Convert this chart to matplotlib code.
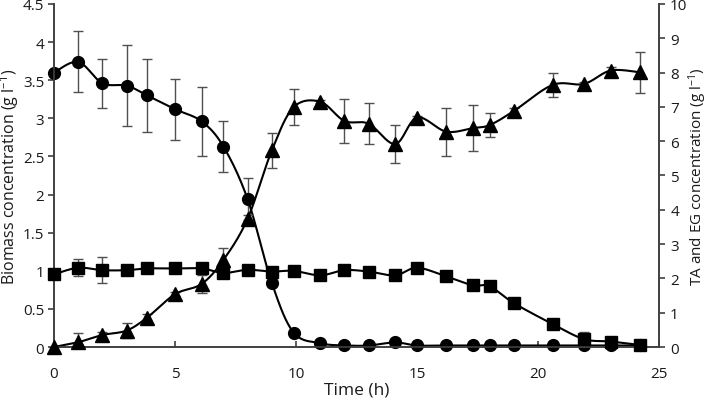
import numpy as np
from matplotlib import pyplot as plt
from matplotlib.ticker import MultipleLocator, FuncFormatter

plt.rcParams['font.family'] = ['Open Sans', 'DejaVu Sans']
plt.rcParams['mathtext.default'] = 'regular'

# sampling times (h)
time = [0, 1, 2, 3, 3.85, 5, 6.1, 7, 8, 9, 9.9, 11, 12, 13, 14.1, 15, 16.2, 17.3, 18, 19, 20.6, 21.9, 23, 24.2]

# biomass (left axis, g/l)
biomass = [3.60, 3.74, 3.46, 3.43, 3.30, 3.12, 2.96, 2.63, 1.94, 0.84, 0.19, 0.05, 0.02, 0.02, 0.06, 0.02,
           0.02, 0.02, 0.02, 0.02, 0.02, 0.02, 0.02, 0.02]
biomass_err = [0, 0.40, 0.32, 0.53, 0.48, 0.40, 0.45, 0.34, 0.28, 0.02, 0, 0, 0, 0, 0, 0,
               0, 0, 0, 0, 0, 0, 0, 0]

# squares (right axis, g/l)
squares = [2.12, 2.31, 2.24, 2.24, 2.29, 2.29, 2.29, 2.16, 2.25, 2.20, 2.22, 2.09, 2.24, 2.20, 2.09, 2.31,
           2.06, 1.80, 1.77, 1.28, 0.67, 0.23, 0.16, 0.06]
squares_err = [0.1, 0.25, 0.37, 0.1, 0.1, 0.1, 0.1, 0.05, 0.08, 0.05, 0.1, 0.05, 0.12, 0.05, 0.05, 0.05,
               0.15, 0.15, 0.05, 0.05, 0.05, 0.22, 0.05, 0.02]

# triangles (right axis, g/l)
triangles = [0.0, 0.14, 0.35, 0.48, 0.86, 1.54, 1.84, 2.54, 3.74, 5.73, 6.99, 7.15, 6.59, 6.51, 5.92, 6.69,
             6.28, 6.38, 6.47, 6.88, 7.64, 7.67, 8.06, 8.01]
triangles_err = [0, 0.27, 0.08, 0.23, 0.1, 0.05, 0.27, 0.34, 0.1, 0.52, 0.52, 0.05, 0.63, 0.6, 0.55, 0.05,
                 0.7, 0.67, 0.36, 0.1, 0.36, 0.05, 0.1, 0.6]


def smooth(x, y, n=20):
    # excel style smoothed line: bezier through points
    p = np.column_stack([x, y]).astype(float)
    pts = np.vstack([p[0], p, p[-1]])
    out = []
    for i in range(1, len(pts) - 2):
        p0, p1, p2, p3 = pts[i - 1], pts[i], pts[i + 1], pts[i + 2]
        b1 = p1 + (p2 - p0) / 6
        b2 = p2 - (p3 - p1) / 6
        s = np.linspace(0, 1, n)[:, None]
        seg = (1 - s) ** 3 * p1 + 3 * (1 - s) ** 2 * s * b1 + 3 * (1 - s) * s ** 2 * b2 + s ** 3 * p2
        out.append(seg)
    c = np.vstack(out)
    return c[:, 0], c[:, 1]


fig = plt.figure(figsize=(7.09, 4.02), dpi=100)
ax = fig.add_axes([0.0762, 0.1343, 0.8533, 0.8533])
ax2 = ax.twinx()

ecol = '#505050'
ax.errorbar(time, biomass, yerr=biomass_err, fmt='none', ecolor=ecol, elinewidth=1, capsize=3.5, zorder=1)
sx, sy = smooth(time, biomass)
ax.plot(sx, sy, color='black', lw=1.5, zorder=2)
ax.plot(time, biomass, 'o', color='black', ms=8.5, zorder=3, clip_on=False)

ax2.errorbar(time, squares, yerr=squares_err, fmt='none', ecolor=ecol, elinewidth=1, capsize=3.5, zorder=1)
sx, sy = smooth(time, squares)
ax2.plot(sx, sy, color='black', lw=1.5, zorder=2)
ax2.plot(time, squares, 's', color='black', ms=8, zorder=3, clip_on=False)

ax2.errorbar(time, triangles, yerr=triangles_err, fmt='none', ecolor=ecol, elinewidth=1, capsize=3.5, zorder=1)
sx, sy = smooth(time, triangles)
ax2.plot(sx, sy, color='black', lw=1.5, zorder=2)
ax2.plot(time, triangles, '^', color='black', ms=9.5, zorder=3, clip_on=False)

ax.set_xlim(0, 25)
ax.set_ylim(0, 4.5)
ax2.set_ylim(0, 10)
ax.xaxis.set_major_locator(MultipleLocator(5))
ax.yaxis.set_major_locator(MultipleLocator(0.5))
ax2.yaxis.set_major_locator(MultipleLocator(1))
ax.yaxis.set_major_formatter(FuncFormatter(lambda v, p: '{:g}'.format(v)))

for a in (ax, ax2):
    a.spines['top'].set_visible(False)
    for s in ('left', 'right', 'bottom'):
        a.spines[s].set_color('#404040')
        a.spines[s].set_linewidth(1.2)
    a.tick_params(labelsize=11, colors='#404040', labelcolor='#1a1a1a', width=1.2)
ax.tick_params(axis='x', direction='in', length=4, pad=14)
ax.tick_params(axis='y', direction='out', length=4, pad=3)
ax2.tick_params(axis='y', direction='out', length=4, pad=4)

ax.set_xlabel('Time (h)', fontsize=12.5, color='#1a1a1a')
ax.set_ylabel('Biomass concentration (g l$^{-1}$)', fontsize=11.5, color='#1a1a1a')
ax2.set_ylabel('TA and EG concentration (g l$^{-1}$)', fontsize=11, color='#1a1a1a')
ax.xaxis.set_label_coords(0.5, -0.1)
ax.yaxis.set_label_coords(-0.054, 0.5)
ax2.yaxis.set_label_coords(1.046, 0.5)

plt.savefig('out.png', dpi=100)
